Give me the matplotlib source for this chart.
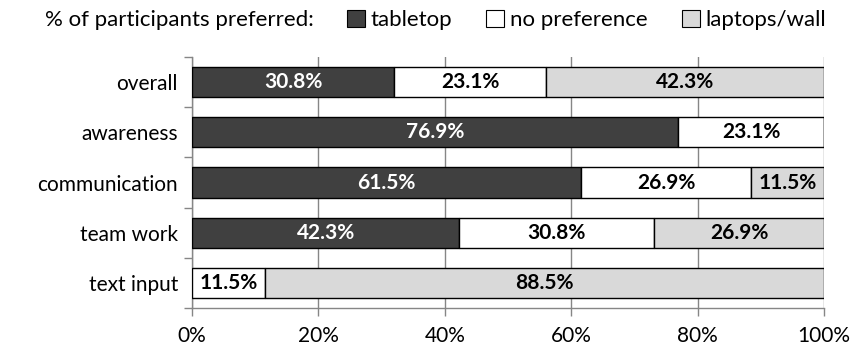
import matplotlib
matplotlib.use("Agg")
import matplotlib.pyplot as plt
from matplotlib.patches import Patch
import numpy as np

plt.rcParams['font.family'] = ['Lato', 'DejaVu Sans']

categories = ["overall", "awareness", "communication", "team work", "text input"]
series_names = ["tabletop", "no preference", "laptops/wall"]
tabletop = [30.8, 76.9, 61.5, 42.3, 0.0]
no_preference = [23.1, 23.1, 26.9, 30.8, 11.5]
laptops_wall = [42.3, 0.0, 11.5, 26.9, 88.5]
x_ticks = [0, 20, 40, 60, 80, 100]
x_tick_labels = ["0%", "20%", "40%", "60%", "80%", "100%"]

colors = ["#404040", "#ffffff", "#d9d9d9"]
text_colors = ["white", "black", "black"]

fig = plt.figure(figsize=(8.53, 3.52), dpi=100)
ax = fig.add_axes([192 / 853, 1 - 308 / 352, 632 / 853, 251 / 352])

values = np.array([tabletop, no_preference, laptops_wall])
totals = values.sum(axis=0)
shares = values / totals * 100  # 100% stacked
y = np.arange(len(categories))
left = np.zeros(len(categories))
for i, name in enumerate(series_names):
    ax.barh(y, shares[i], left=left, height=0.6, color=colors[i],
            edgecolor="black", linewidth=1.0, zorder=3, label=name)
    for j in range(len(categories)):
        if values[i, j] > 0:
            ax.text(left[j] + shares[i, j] / 2, y[j], f"{values[i, j]:.1f}%",
                    ha="center", va="center", fontsize=15, fontweight="bold",
                    color=text_colors[i], zorder=4)
    left += shares[i]

ax.set_xlim(0, 100)
ax.set_ylim(len(categories) - 0.5, -0.5)
ax.set_xticks(x_ticks)
ax.set_xticklabels(x_tick_labels, fontsize=15)
ax.set_yticks(y)
ax.set_yticklabels(categories, fontsize=15)
ax.set_yticks(np.arange(-0.5, len(categories)), minor=True)
ax.tick_params(axis="y", which="major", length=0, pad=10)
ax.tick_params(axis="y", which="minor", length=6, color="#868686", width=1)
ax.tick_params(axis="x", length=6, color="#868686", width=1, pad=7)
ax.grid(axis="x", color="#868686", linewidth=1, zorder=0)
for side in ["top", "right"]:
    ax.spines[side].set_visible(False)
for side in ["left", "bottom"]:
    ax.spines[side].set_color("#868686")
    ax.spines[side].set_linewidth(1)

fig.text(45 / 853, 1 - 20 / 352, "% of participants preferred:", fontsize=16,
         ha="left", va="center")
handles = [Patch(facecolor=c, edgecolor="black", linewidth=0.8) for c in colors]
fig.legend(handles, series_names, loc="center left",
           bbox_to_anchor=(347 / 853, 1 - 20 / 352), ncol=3, frameon=False,
           fontsize=16, handlelength=0.8, handleheight=0.8,
           handletextpad=0.25, columnspacing=1.55, borderaxespad=0, borderpad=0)

fig.savefig("out.png", dpi=100)
